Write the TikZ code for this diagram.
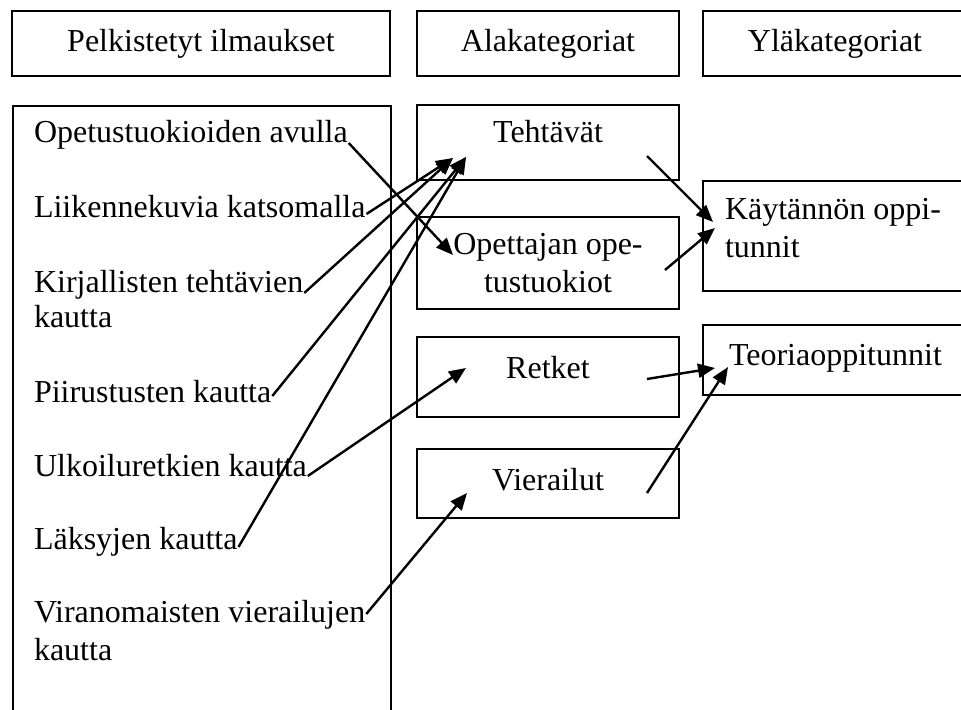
\documentclass[tikz,border=0pt]{standalone}
\usepackage{fontspec}
\setmainfont{Liberation Serif}
\usetikzlibrary{arrows.meta}
\begin{document}
\begin{tikzpicture}[x=0.5pt, y=-0.5pt, line width=1pt,
    every node/.style={font=\fontsize{16}{18.8}\selectfont, inner sep=0pt},
    box/.style={draw, anchor=base, align=flush center, text width=131pt},
    item/.style={anchor=base west},
    arr/.style={-{Triangle[length=8.5pt, width=7pt]}, line width=1.2pt}]
   \useasboundingbox (0,0) rectangle (961,710);
   \node[box, text width=189pt, text height=20.5pt, text depth=12pt] (hd1) at (201,52) {Pelkistetyt ilmaukset};
   \node[box, text height=20.5pt, text depth=12pt] (hd2) at (548,52) {Alakategoriat};
   \node[box, text width=132pt, text height=20.5pt, text depth=12pt] (hd3) at (835,52) {Yläkategoriat};
   \node[draw, anchor=north west, minimum width=189pt, minimum height=310pt] (ilm) at (12,105) {};
   \node[item] (t1) at (33,143) {Opetustuokioiden avulla};
   \node[item] (t2) at (33,218) {Liikennekuvia katsomalla};
   \node[item] (t3) at (33,293) {Kirjallisten tehtävien};
   \node[item] (t3b) at (33,328) {kautta};
   \node[item] (t4) at (33,402) {Piirustusten kautta};
   \node[item] (t5) at (33,476) {Ulkoiluretkien kautta};
   \node[item] (t6) at (33,549) {Läksyjen kautta};
   \node[item] (t7) at (33,622) {Viranomaisten vierailujen};
   \node[item] (t7b) at (33,660) {kautta};
   \node[box, text height=19pt, text depth=18.5pt] (teh) at (548,143) {Tehtävät};
   \node[box, text height=19pt, text depth=27pt] (opt) at (548,255) {Opettajan ope-\\tustuokiot};
   \node[box, text height=20.5pt, text depth=19.5pt] (ret) at (548,378) {Retket};
   \node[box, text height=20.5pt, text depth=14pt] (vie) at (548,490) {Vierailut};
   \node[box, align=flush left, inner xsep=11pt, text width=110pt, text height=19.5pt, text depth=35.5pt] (kay) at (835,220) {Käytännön oppi-\\tunnit};
   \node[box, align=flush left, inner xsep=13pt, text width=106pt, text height=20pt, text depth=15pt] (teo) at (835,365) {Teoriaoppitunnit};
   \coordinate (teh-in1) at (453,158);
   \coordinate (teh-in2) at (466,157);
   \coordinate (opt-in) at (453,255);
   \coordinate (ret-in) at (466,368);
   \coordinate (vie-in) at (467,493);
   \coordinate (teh-out) at (647,156);
   \coordinate (opt-out) at (665,270);
   \coordinate (ret-out) at (647,379);
   \coordinate (vie-out) at (647,493);
   \coordinate (kay-in1) at (713,222);
   \coordinate (kay-in2) at (715,228);
   \coordinate (teo-in1) at (715,368);
   \coordinate (teo-in2) at (728,367);
   \draw[arr] (t1.base east) -- (opt-in);
   \draw[arr] ([yshift=2pt]t2.base east) -- (teh-in1);
   \draw[arr] (t3.base east) -- (teh-in1);
   \draw[arr] ([yshift=3pt]t4.base east) -- (teh-in2);
   \draw[arr] (t5.base east) -- (ret-in);
   \draw[arr] ([yshift=1pt]t6.base east) -- (teh-in2);
   \draw[arr] ([yshift=4pt]t7.base east) -- (vie-in);
   \draw[arr] (teh-out) -- (kay-in1);
   \draw[arr] (opt-out) -- (kay-in2);
   \draw[arr] (ret-out) -- (teo-in1);
   \draw[arr] (vie-out) -- (teo-in2);
\end{tikzpicture}
\end{document}
